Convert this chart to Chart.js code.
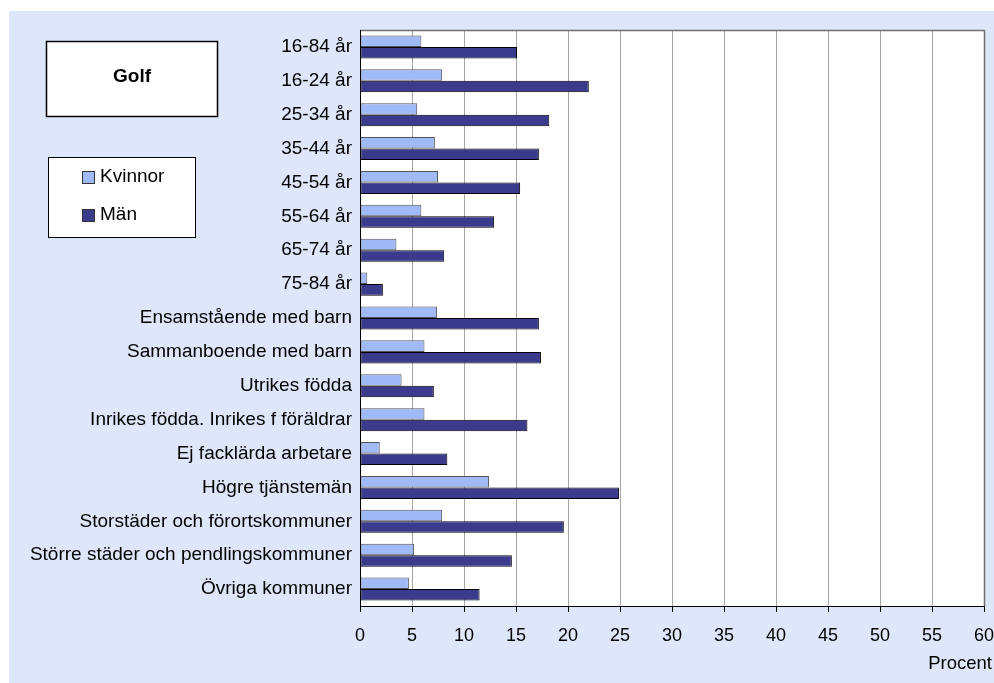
<!DOCTYPE html>
<html>
<head>
<meta charset="utf-8">
<script src="https://cdn.jsdelivr.net/npm/chart.js@4/dist/chart.umd.min.js"></script>
<style>
html,body{margin:0;padding:0;background:#ffffff;}
#wrap{position:relative;width:994px;height:683px;}
canvas{display:block;}
</style>
</head>
<body>
<div id="wrap"><canvas id="c" width="994" height="683"></canvas></div>
<script>
const categories = [
  "16-84 år","16-24 år","25-34 år","35-44 år","45-54 år","55-64 år","65-74 år","75-84 år",
  "Ensamstående med barn","Sammanboende med barn","Utrikes födda",
  "Inrikes födda. Inrikes f föräldrar","Ej facklärda arbetare","Högre tjänstemän",
  "Storstäder och förortskommuner","Större städer och pendlingskommuner","Övriga kommuner"
];
const kvinnor = [5.9, 7.9, 5.5, 7.2, 7.5, 5.9, 3.5, 0.7, 7.4, 6.2, 4.0, 6.2, 1.9, 12.4, 7.9, 5.2, 4.7];
const man     = [15.1, 22.0, 18.2, 17.2, 15.4, 12.9, 8.1, 2.2, 17.2, 17.4, 7.1, 16.1, 8.4, 24.9, 19.6, 14.6, 11.5];
const xTicks = [0,5,10,15,20,25,30,35,40,45,50,55,60];
const chartTitle = "Golf";
const seriesNames = ["Kvinnor","Män"];
const xTitle = "Procent";

const FONT = "'Liberation Sans', Arial, sans-serif";
const colLight = "#a0b9f7";
const colDark = "#3b3b8e";

const decor = {
  id: "decor",
  beforeDraw(chart) {
    const ctx = chart.ctx;
    ctx.save();
    ctx.fillStyle = "#dee7f9";
    ctx.fillRect(9, 11, 994 - 9, 683 - 11);
    const a = chart.chartArea;
    ctx.fillStyle = "#ffffff";
    ctx.fillRect(a.left, a.top, a.right - a.left, a.bottom - a.top);
    ctx.restore();
  },
  afterDraw(chart) {
    const ctx = chart.ctx;
    const a = chart.chartArea;
    ctx.save();
    // plot border top/right
    ctx.strokeStyle = "#707070";
    ctx.lineWidth = 1.5;
    ctx.beginPath();
    ctx.moveTo(a.left, a.top + 0.5);
    ctx.lineTo(a.right + 0.5, a.top + 0.5);
    ctx.lineTo(a.right + 0.5, a.bottom);
    ctx.stroke();
    // axes
    ctx.strokeStyle = "#000000";
    ctx.lineWidth = 1;
    ctx.beginPath();
    ctx.moveTo(a.left + 0.5, a.top);
    ctx.lineTo(a.left + 0.5, a.bottom + 0.5);
    ctx.lineTo(a.right, a.bottom + 0.5);
    ctx.stroke();
    // axis title
    ctx.fillStyle = "#000000";
    ctx.font = "18.5px " + FONT;
    ctx.textAlign = "right";
    ctx.textBaseline = "middle";
    ctx.fillText(xTitle, 992, 664);
    // title box
    ctx.fillStyle = "#ffffff";
    ctx.fillRect(46.5, 41.5, 171, 75);
    ctx.strokeStyle = "#000000";
    ctx.lineWidth = 1.5;
    ctx.strokeRect(46.5, 41.5, 171, 75);
    ctx.fillStyle = "#000000";
    ctx.font = "bold 19px " + FONT;
    ctx.textAlign = "center";
    ctx.textBaseline = "middle";
    ctx.fillText(chartTitle, 132, 77);
    // legend box
    ctx.fillStyle = "#ffffff";
    ctx.fillRect(48.5, 157.5, 147, 80);
    ctx.lineWidth = 1;
    ctx.strokeStyle = "#000000";
    ctx.strokeRect(48.5, 157.5, 147, 80);
    const items = [[seriesNames[0], colLight, 177], [seriesNames[1], colDark, 215]];
    ctx.font = "19px " + FONT;
    ctx.textAlign = "left";
    items.forEach(([t, c, y]) => {
      ctx.fillStyle = c;
      ctx.fillRect(82.5, y - 5.5, 12, 12);
      ctx.strokeStyle = "#333333";
      ctx.strokeRect(82.5, y - 5.5, 12, 12);
      ctx.fillStyle = "#000000";
      ctx.fillText(t, 100, y);
    });
    ctx.restore();
  }
};

new Chart(document.getElementById("c"), {
  type: "bar",
  data: {
    labels: categories,
    datasets: [
      { label: seriesNames[0], data: kvinnor, backgroundColor: colLight, borderColor: "#555555", borderWidth: 1, borderSkipped: false, categoryPercentage: 0.68, barPercentage: 1.0 },
      { label: seriesNames[1], data: man, backgroundColor: colDark, borderColor: "#000000", borderWidth: 1, borderSkipped: false, categoryPercentage: 0.68, barPercentage: 1.0 }
    ]
  },
  options: {
    indexAxis: "y",
    responsive: false,
    animation: false,
    devicePixelRatio: 1,
    layout: { padding: { left: 0, right: 10, top: 30, bottom: 0 } },
    plugins: { legend: { display: false }, tooltip: { enabled: false }, title: { display: false } },
    scales: {
      x: {
        min: 0, max: 60,
        afterBuildTicks(scale) { scale.ticks = xTicks.map(v => ({ value: v })); },
        afterFit(scale) { scale.height = 77; scale.paddingLeft = 0; scale.paddingRight = 0; },
        grid: { color: "#a6a6a6", lineWidth: 1, tickColor: "#000000", tickLength: 6, drawOnChartArea: true },
        border: { display: false },
        ticks: { color: "#000000", font: { family: FONT, size: 18 }, padding: 13, maxRotation: 0, autoSkip: false },
        title: { display: false }
      },
      y: {
        afterFit(scale) { scale.width = 360; scale.paddingTop = 0; scale.paddingBottom = 0; },
        grid: { display: false },
        border: { display: false },
        ticks: { color: "#000000", font: { family: FONT, size: 19 }, padding: 0, autoSkip: false }
      }
    }
  },
  plugins: [decor]
});
</script>
</body>
</html>
